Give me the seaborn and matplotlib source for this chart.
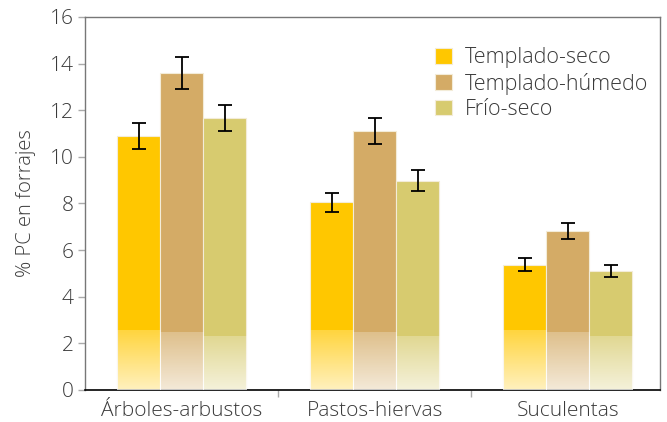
import numpy as np
import pandas as pd
import matplotlib
matplotlib.use("Agg")
import matplotlib.pyplot as plt
import seaborn as sns

# ---- data ----
categories = ["Árboles-arbustos", "Pastos-hiervas", "Suculentas"]
series = ["Templado-seco", "Templado-húmedo", "Frío-seco"]
templado_seco = [10.9, 8.05, 5.37]
templado_humedo = [13.6, 11.1, 6.82]
frio_seco = [11.65, 8.97, 5.1]
err_templado_seco = [0.55, 0.4, 0.28]
err_templado_humedo = [0.7, 0.55, 0.35]
err_frio_seco = [0.55, 0.45, 0.25]

colors = ["#FFC700", "#D4AB66", "#D7CB6F"]
fade_top = [2.55, 2.45, 2.3]   # where the pale gradient at the base of the bars starts

sns.set_theme(style="white")
plt.rcParams["font.family"] = ["Open Sans", "DejaVu Sans"]
plt.rcParams["font.weight"] = "light"
text_color = "#3a3a3a"

df = pd.DataFrame({
    "categoria": categories * 3,
    "clima": [s for s in series for _ in categories],
    "valor": templado_seco + templado_humedo + frio_seco,
})
errors = [err_templado_seco, err_templado_humedo, err_frio_seco]

fig, ax = plt.subplots(figsize=(6.67, 4.22), dpi=100)
fig.subplots_adjust(left=0.128, right=0.99, bottom=0.076, top=0.96)

sns.barplot(
    data=df, x="categoria", y="valor", hue="clima",
    hue_order=series, order=categories, palette=colors,
    errorbar=None, width=0.67, saturation=1,
    edgecolor="#f3ecd8", linewidth=0.8, ax=ax,
)

# error bars + pale gradient at the bottom of each bar
bar_groups = list(ax.containers)
for i, cont in enumerate(bar_groups):
    xs = [p.get_x() + p.get_width() / 2 for p in cont.patches]
    ys = [p.get_height() for p in cont.patches]
    ax.errorbar(xs, ys, yerr=errors[i], fmt="none", ecolor="black",
                elinewidth=1.3, capsize=5, capthick=1.3, zorder=5)
    for p in cont.patches:
        grad = np.zeros((100, 1, 4))
        grad[..., :3] = 1.0
        grad[:, 0, 3] = np.linspace(0.25, 0.75, 100)  # row 0 = top
        ax.imshow(grad, extent=(p.get_x(), p.get_x() + p.get_width(), 0, fade_top[i]),
                  aspect="auto", interpolation="bilinear", zorder=3)

ax.set_xlim(-0.5, 2.48)
ax.set_ylim(0, 16)
ax.set_yticks(range(0, 17, 2))
ax.set_xlabel("")
ax.set_ylabel("% PC en forrajes", fontsize=14.5, fontweight="light",
              color=text_color, labelpad=10)

ax.tick_params(axis="y", which="major", direction="out", length=5, width=1,
               color="#aaaaaa", labelsize=15, labelcolor=text_color, left=True)
ax.tick_params(axis="x", which="major", length=0, labelsize=15,
               labelcolor=text_color, pad=8)
ax.set_xticks([0.5, 1.5], minor=True)
ax.tick_params(axis="x", which="minor", direction="out", length=5, width=1,
               color="#aaaaaa", bottom=True)

for side in ["top", "right", "left"]:
    ax.spines[side].set_color("#777777")
    ax.spines[side].set_linewidth(1)
ax.spines["bottom"].set_color("black")
ax.spines["bottom"].set_linewidth(1.2)

ax.legend(loc="upper right", bbox_to_anchor=(1.012, 0.97), frameon=False,
          prop={"size": 15.5, "weight": "light"}, labelcolor=text_color,
          handlelength=0.75, handleheight=0.75, handletextpad=0.6,
          labelspacing=0.2)

fig.savefig("out.png", dpi=100)
